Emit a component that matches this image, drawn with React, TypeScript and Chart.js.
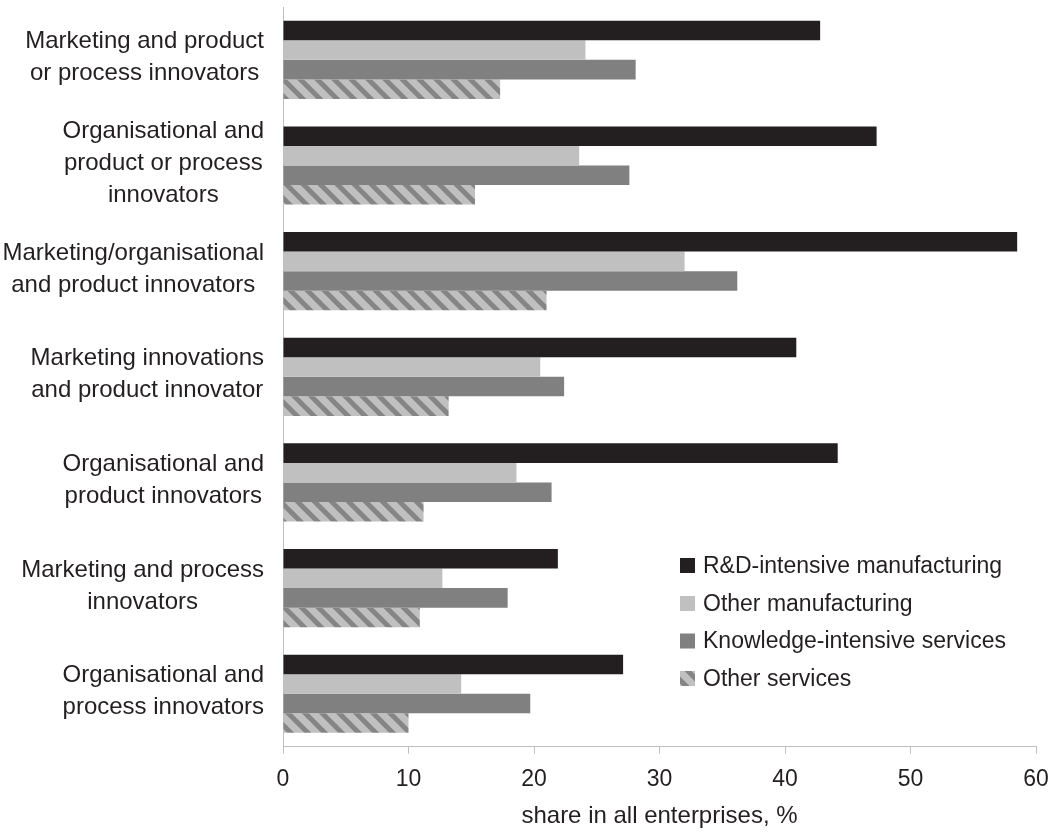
import React, { useEffect, useRef } from "react";
import { Chart, registerables } from "chart.js";

Chart.register(...registerables);

// ---------- data ----------
const categories: string[][] = [
  ["Marketing and product", "or process innovators"],
  ["Organisational and", "product or process", "innovators"],
  ["Marketing/organisational", "and product innovators"],
  ["Marketing innovations", "and product innovator"],
  ["Organisational and", "product innovators"],
  ["Marketing and process", "innovators"],
  ["Organisational and", "process innovators"],
];

const seriesNames = [
  "R&D-intensive manufacturing",
  "Other manufacturing",
  "Knowledge-intensive services",
  "Other services",
];

const rdIntensiveManufacturing = [42.8, 47.3, 58.5, 40.9, 44.2, 21.9, 27.1];
const otherManufacturing = [24.1, 23.6, 32.0, 20.5, 18.6, 12.7, 14.2];
const knowledgeIntensiveServices = [28.1, 27.6, 36.2, 22.4, 21.4, 17.9, 19.7];
const otherServices = [17.3, 15.3, 21.0, 13.2, 11.2, 10.9, 10.0];

const xMin = 0;
const xMax = 60;
const xStep = 10;
const xTitle = "share in all enterprises, %";

// ---------- styles ----------
const FONT = '"Liberation Sans", Arial, sans-serif';
const TEXT = "#231f20";
const AXIS = "#bfbfbf";
const BLACK = "#231f20";
const LIGHT = "#c0c0c0";
const DARK = "#808080";

function makeHatch(): CanvasPattern | string {
  const P = 17;
  const c = document.createElement("canvas");
  c.width = P;
  c.height = P;
  const g = c.getContext("2d");
  if (!g) return LIGHT;
  g.fillStyle = LIGHT;
  g.fillRect(0, 0, P, P);
  g.strokeStyle = "#858585";
  g.lineWidth = 5;
  for (const x0 of [-P, 0, P]) {
    g.beginPath();
    g.moveTo(x0 - 2, -2);
    g.lineTo(x0 + P + 2, P + 2);
    g.stroke();
  }
  const pat = g.createPattern(c, "repeat");
  return pat || LIGHT;
}

export default function App() {
  const ref = useRef<HTMLCanvasElement | null>(null);

  useEffect(() => {
    const canvas = ref.current;
    if (!canvas) return;
    const hatch = makeHatch();
    const fills: (string | CanvasPattern)[] = [BLACK, LIGHT, DARK, hatch];

    const yLabelPlugin = {
      id: "yLabels",
      afterDraw(chart: any) {
        const ctx = chart.ctx as CanvasRenderingContext2D;
        const yScale = chart.scales.y;
        const right = chart.chartArea.left - 19;
        ctx.save();
        ctx.font = `24px ${FONT}`;
        ctx.fillStyle = TEXT;
        ctx.textAlign = "center";
        ctx.textBaseline = "middle";
        const lh = 32;
        categories.forEach((lines, i) => {
          const cy = yScale.getPixelForValue(i) - 2;
          const w = Math.max(...lines.map((l) => ctx.measureText(l).width));
          const cx = right - w / 2;
          lines.forEach((l, j) => {
            ctx.fillText(l, cx, cy + (j - (lines.length - 1) / 2) * lh);
          });
        });
        ctx.restore();
      },
    };

    const legendPlugin = {
      id: "insideLegend",
      afterDraw(chart: any) {
        const ctx = chart.ctx as CanvasRenderingContext2D;
        const rows = [565.5, 603.5, 641, 678.5];
        ctx.save();
        ctx.font = `23px ${FONT}`;
        ctx.textAlign = "left";
        ctx.textBaseline = "middle";
        seriesNames.forEach((name, i) => {
          const y = rows[i];
          ctx.fillStyle = fills[i] as any;
          ctx.fillRect(680, y - 7.5, 15, 15);
          ctx.fillStyle = TEXT;
          ctx.fillText(name, 703, y + 1);
        });
        ctx.restore();
      },
    };

    const seriesValues = [
      rdIntensiveManufacturing,
      otherManufacturing,
      knowledgeIntensiveServices,
      otherServices,
    ];

    const chart = new Chart(canvas, {
      type: "bar",
      data: {
        labels: categories.map((c) => c.join(" ")),
        datasets: seriesNames.map((name, i) => ({
          label: name,
          data: seriesValues[i],
          backgroundColor: fills[i] as any,
          borderWidth: 0,
          categoryPercentage: 0.74,
          barPercentage: 1.0,
        })),
      },
      options: {
        indexAxis: "y",
        responsive: false,
        maintainAspectRatio: false,
        animation: false,
        layout: { padding: { left: 283, right: 17, top: 7, bottom: 1 } },
        plugins: {
          legend: { display: false },
          tooltip: { enabled: false },
        },
        scales: {
          x: {
            min: xMin,
            max: xMax,
            afterFit(scale: any) {
              scale.paddingRight = 0;
              scale.paddingLeft = 0;
            },
            ticks: {
              stepSize: xStep,
              color: TEXT,
              font: { family: FONT, size: 23 },
              padding: 12,
            },
            grid: {
              drawOnChartArea: false,
              drawTicks: true,
              tickLength: 7,
              color: AXIS,
            },
            border: { color: AXIS, width: 1 },
            title: {
              display: true,
              text: xTitle,
              color: TEXT,
              font: { family: FONT, size: 24 },
              padding: { top: -3, bottom: 0 },
            },
          },
          y: {
            ticks: { display: false },
            grid: { display: false, drawTicks: false },
            border: { color: AXIS, width: 1 },
          },
        },
      },
      plugins: [yLabelPlugin, legendPlugin],
    });

    return () => chart.destroy();
  }, []);

  return (
    <div
      style={{
        position: "absolute",
        left: 0,
        top: 0,
        width: 1053,
        height: 832,
        background: "#fff",
      }}
    >
      <canvas ref={ref} width={1053} height={832} style={{ display: "block" }} />
    </div>
  );
}
